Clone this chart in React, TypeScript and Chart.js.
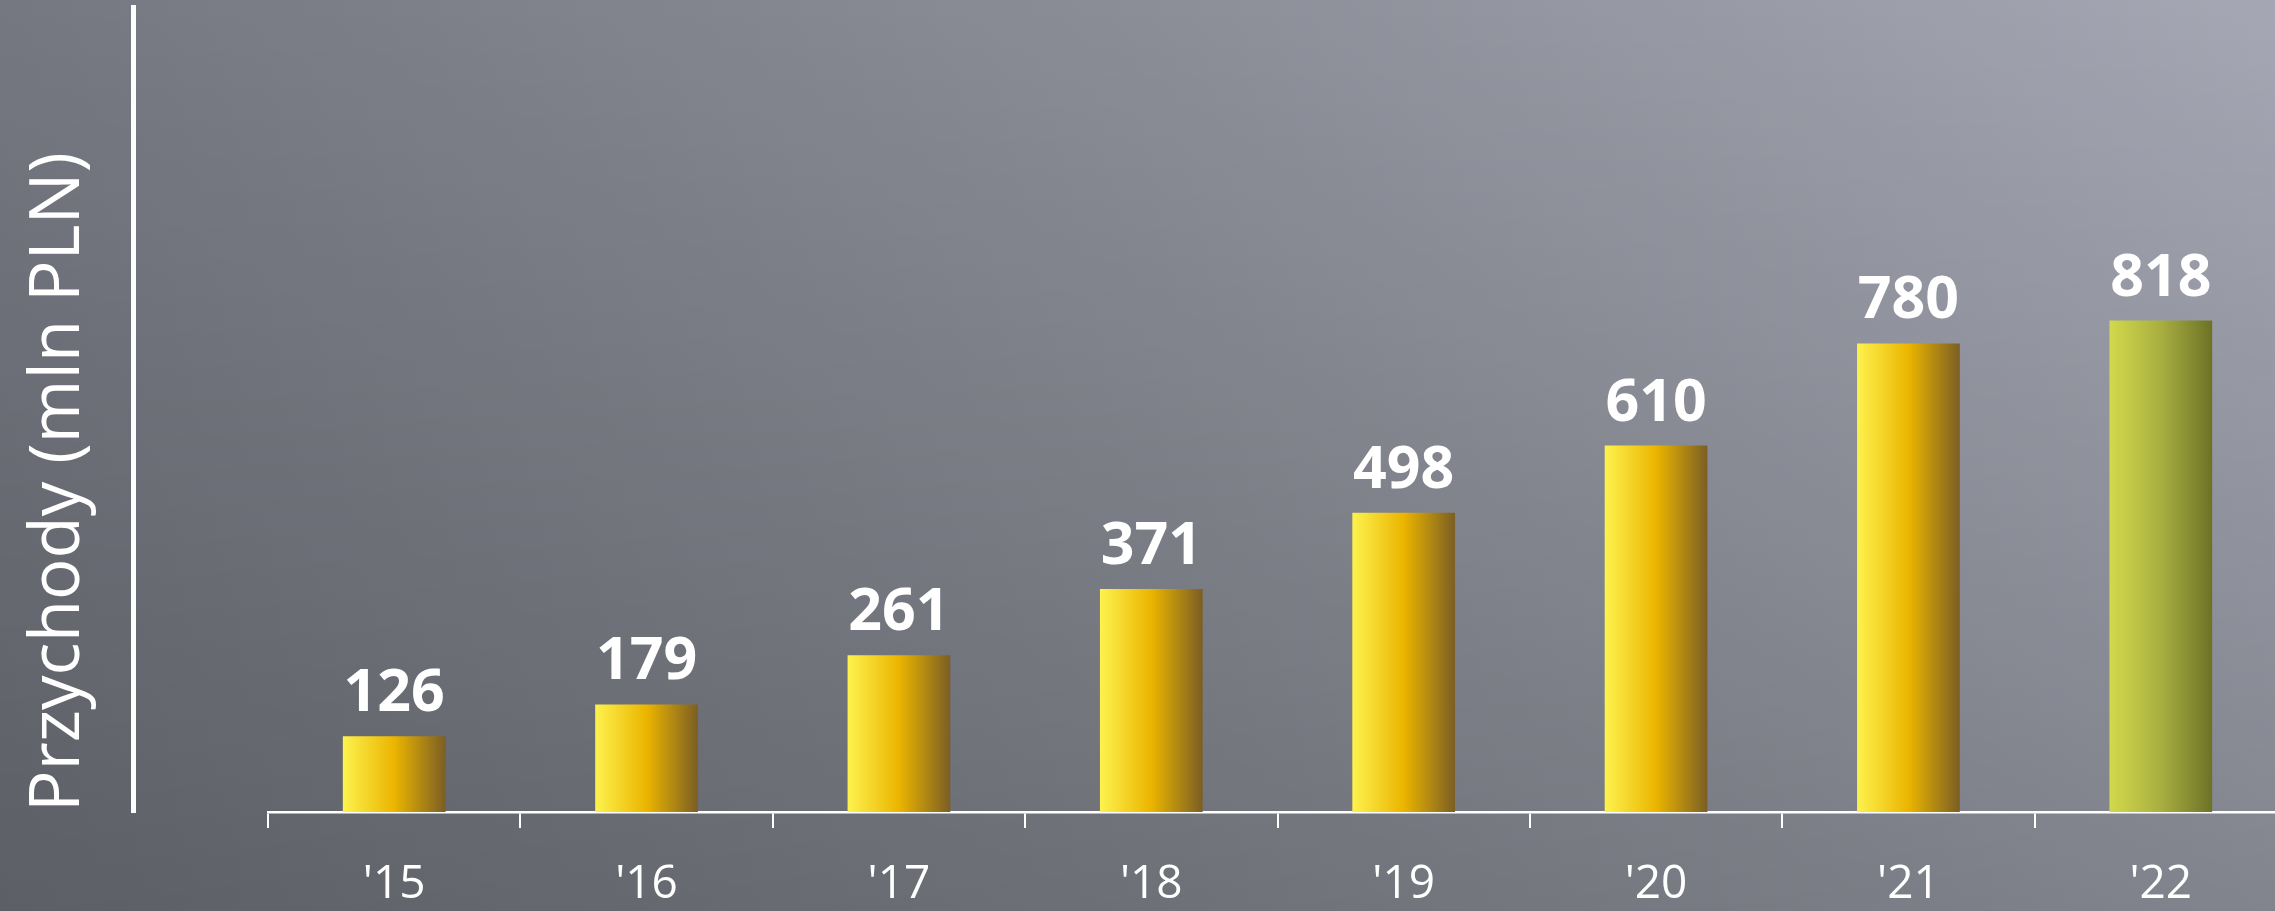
import React, { useEffect, useRef } from "react";
import { Chart, registerables } from "chart.js";

Chart.register(...registerables);

const categories = ["'15", "'16", "'17", "'18", "'19", "'20", "'21", "'22"];
const revenues = [126, 179, 261, 371, 498, 610, 780, 818];
const valueLabels = ["126", "179", "261", "371", "498", "610", "780", "818"];
const axisTitle = "Przychody (mln PLN)";
const yMax = 1340;

const yellowStops = ["#fdf24e", "#ebb500", "#7b5e24"];
const oliveStops = ["#d2d94b", "#a9af40", "#6c7226"];
const barFraction = 0.407;

const CANVAS_W = 2287;
const CANVAS_H = 911;

const backgroundPlugin = {
  id: "bgGradient",
  beforeDraw(chart: any) {
    const { ctx, width, height } = chart;
    ctx.save();
    const h = ctx.createLinearGradient(0, 0, width, 0);
    h.addColorStop(0, "#757881");
    h.addColorStop(0.5, "#8b8e97");
    h.addColorStop(1, "#a5a8b4");
    ctx.fillStyle = h;
    ctx.fillRect(0, 0, width, height);
    const v = ctx.createLinearGradient(0, 0, 0, height);
    v.addColorStop(0, "rgba(0,0,0,0)");
    v.addColorStop(1, "rgba(0,0,0,0.21)");
    ctx.fillStyle = v;
    ctx.fillRect(0, 0, width, height);
    ctx.restore();
  },
};

const valueLabelPlugin = {
  id: "valueLabels",
  afterDatasetsDraw(chart: any) {
    const meta = chart.getDatasetMeta(0);
    const c = chart.ctx;
    c.save();
    c.font = "bold 59px 'Open Sans'";
    c.fillStyle = "#ffffff";
    c.textAlign = "center";
    c.textBaseline = "alphabetic";
    meta.data.forEach((bar: any, i: number) => {
      c.fillText(valueLabels[i], bar.x, bar.y - 25);
    });
    c.restore();
  },
};

function barGradient(ctx: any) {
  const chart = ctx.chart;
  const xs = chart.scales && chart.scales.x;
  if (!chart.chartArea || !xs || ctx.type !== "data") return yellowStops[1];
  const center = xs.getPixelForValue(ctx.dataIndex);
  const half = (xs.width / categories.length) * barFraction / 2;
  const g = chart.ctx.createLinearGradient(center - half, 0, center + half, 0);
  const stops = ctx.dataIndex === categories.length - 1 ? oliveStops : yellowStops;
  g.addColorStop(0, stops[0]);
  g.addColorStop(0.5, stops[1]);
  g.addColorStop(1, stops[2]);
  return g;
}

export default function App() {
  const canvasRef = useRef<HTMLCanvasElement | null>(null);

  useEffect(() => {
    if (!canvasRef.current) return;
    const chart = new Chart(canvasRef.current, {
      type: "bar",
      data: {
        labels: categories,
        datasets: [
          {
            data: revenues,
            backgroundColor: barGradient,
            borderWidth: 0,
            categoryPercentage: barFraction,
            barPercentage: 1,
          },
        ],
      },
      options: {
        responsive: false,
        animation: false,
        devicePixelRatio: 1,
        layout: { padding: { top: 7, left: 0, right: 0, bottom: 0 } },
        plugins: {
          legend: { display: false },
          tooltip: { enabled: false },
        },
        scales: {
          x: {
            type: "category",
            offset: true,
            grid: {
              display: true,
              offset: true,
              drawOnChartArea: false,
              drawTicks: true,
              tickLength: 16,
              color: "#ffffff",
              lineWidth: 2,
            },
            border: { display: true, color: "#ffffff", width: 2.5 },
            ticks: {
              color: "#ffffff",
              font: { family: "'Open Sans'", size: 46 },
              padding: 29,
              maxRotation: 0,
              autoSkip: false,
            },
            afterFit: (s: any) => {
              s.height = 99;
            },
          },
          y: {
            type: "linear",
            position: "left",
            weight: 0,
            min: 0,
            max: yMax,
            ticks: { display: false },
            grid: { display: false },
            border: { display: false },
            afterFit: (s: any) => {
              s.width = 135;
            },
          },
          yt: {
            type: "linear",
            position: "left",
            weight: 1,
            ticks: { display: false },
            grid: {
              display: true,
              drawOnChartArea: false,
              drawTicks: false,
              color: "rgba(0,0,0,0)",
            },
            border: { display: true, color: "#ffffff", width: 5 },
            title: {
              display: true,
              text: axisTitle,
              color: "#ffffff",
              align: "start",
              font: { family: "'Open Sans'", size: 69, weight: "400" },
              padding: { top: 18, bottom: 0 },
            },
            afterFit: (s: any) => {
              s.width = 133;
            },
          },
        },
      } as any,
      plugins: [backgroundPlugin, valueLabelPlugin],
    });
    return () => chart.destroy();
  }, []);

  return (
    <div
      style={{
        position: "fixed",
        left: 0,
        top: 0,
        width: 2275,
        height: CANVAS_H,
        overflow: "hidden",
      }}
    >
      <canvas
        ref={canvasRef}
        width={CANVAS_W}
        height={CANVAS_H}
        style={{ width: CANVAS_W, height: CANVAS_H, display: "block" }}
      />
    </div>
  );
}
